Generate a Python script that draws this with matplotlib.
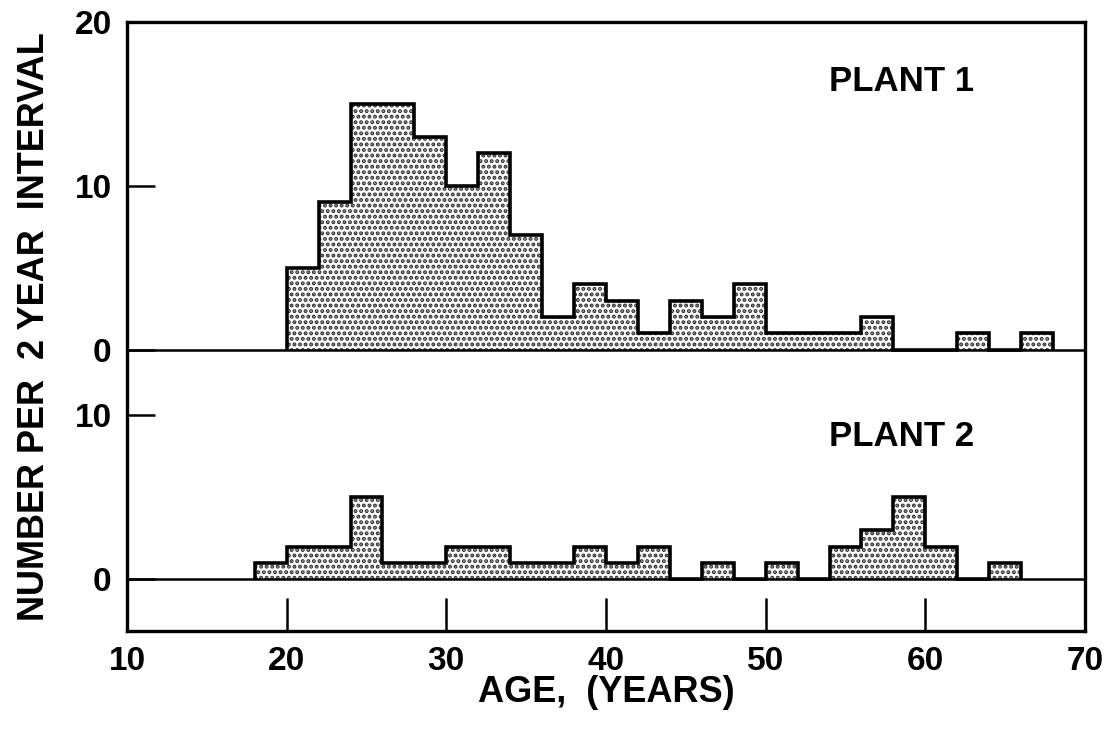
import matplotlib
matplotlib.use("Agg")
import matplotlib.pyplot as plt
import numpy as np

plt.rcParams['font.family'] = ['Liberation Sans', 'DejaVu Sans']
plt.rcParams['font.weight'] = 'bold'
plt.rcParams['axes.labelweight'] = 'bold'
plt.rcParams['hatch.linewidth'] = 2.0

# Data: counts per 2-year interval
edges1 = list(range(20, 70, 2))  # 20..68
plant1 = [5, 9, 15, 15, 13, 10, 12, 7, 2, 4, 3, 1, 3, 2, 4, 1, 1, 1, 2, 0, 0, 1, 0, 1]
edges2 = list(range(18, 68, 2))  # 18..66
plant2 = [1, 2, 2, 5, 1, 1, 2, 2, 1, 1, 2, 1, 2, 0, 1, 0, 1, 0, 2, 3, 5, 2, 0, 1]

offset1 = 14   # baseline of plant 1 panel in shared axis units
offset2 = 0

ytick_pos = [0, 10, 14, 24, 34]
ytick_lab = ["0", "10", "0", "10", "20"]
xticks = [10, 20, 30, 40, 50, 60, 70]

fig = plt.figure(figsize=(11.09, 7.31), dpi=100)
ax = fig.add_axes([127/1109, 1-631/731, (1085-127)/1109, (631-22)/731])

for vals, edges, off in [(plant1, edges1, offset1), (plant2, edges2, offset2)]:
    v = np.array(vals, dtype=float)
    e = np.array(edges, dtype=float)
    ax.bar(e[:-1], v, width=2, bottom=off, align='edge', color='white',
           edgecolor='#333333', hatch='...', linewidth=0)
    ax.stairs(v + off, e, baseline=off, color='black', linewidth=2.6)
    ax.axhline(off, color='black', linewidth=1.8)

ax.text(58.5, 30.4, "PLANT 1", fontsize=25, fontweight='bold', ha='center', va='center')
ax.text(58.5, 8.7, "PLANT 2", fontsize=25, fontweight='bold', ha='center', va='center')

ax.set_xlim(10, 70)
ax.set_ylim(-3.15, 34)
ax.set_xticks(xticks)
ax.set_xticklabels([str(t) for t in xticks])
ax.set_yticks(ytick_pos)
ax.set_yticklabels(ytick_lab)
ax.tick_params(axis='x', direction='in', length=24, width=1.8, pad=11, labelsize=24)
ax.tick_params(axis='y', direction='in', length=20, width=1.8, pad=11, labelsize=24)
for s in ax.spines.values():
    s.set_linewidth(2.4)

ax.set_xlabel("AGE,  (YEARS)", fontsize=26, fontweight='bold', va='center')
ax.xaxis.set_label_coords(0.5, (631 - 693) / 609)
ax.set_ylabel("NUMBER PER  2 YEAR  INTERVAL", fontsize=26, fontweight='bold', labelpad=16)

fig.savefig("out.png", dpi=100)
